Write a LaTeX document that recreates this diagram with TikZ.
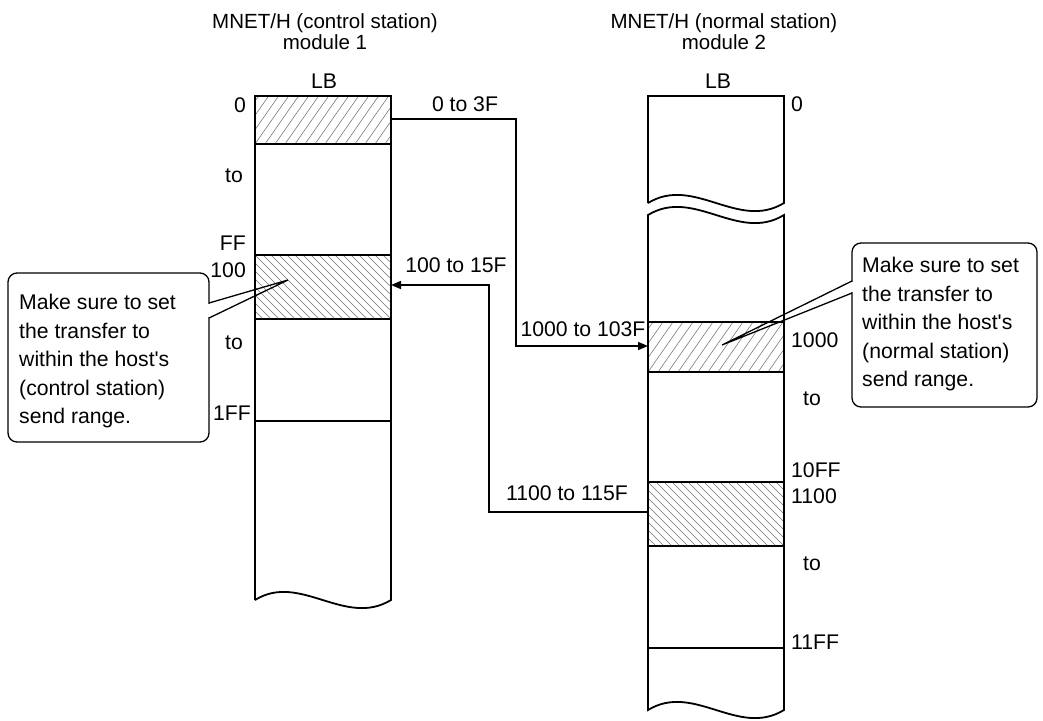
\documentclass[tikz,border=0pt]{standalone}
\usepackage{fontspec}
\setmainfont{Liberation Sans}
\usetikzlibrary{arrows.meta}
\newcommand{\hatchNE}[4]{\begin{scope}\clip (#1,#2) rectangle (#3,#4);
  \foreach \xx in {-80,-70,...,140} \draw[hatchl] ({#1+\xx},#4) -- ++(70,-100);
  \end{scope}}
\newcommand{\hatchNW}[4]{\begin{scope}\clip (#1,#2) rectangle (#3,#4);
  \foreach \xx in {-104,-96,...,140} \draw[hatchl] ({#1+\xx},#2) -- ++(100,100);
  \end{scope}}
\begin{document}
\begin{tikzpicture}[x=1pt,y=-1pt,
  txt/.style={inner sep=0pt, text height=15.2pt, text depth=0pt, font=\fontsize{21.2}{25}\selectfont},
  ttl/.style={inner sep=0pt, text height=14.7pt, text depth=0pt, font=\fontsize{20.5}{24}\selectfont},
  col/.style={line width=1.8pt, line join=miter},
  sep/.style={line width=1.8pt},
  hatchl/.style={line width=0.55pt, black!55},
  conn/.style={line width=1.5pt, -{Triangle[length=10pt,width=8pt]}},
  callout/.style={line width=1.3pt},
  ctext/.style={inner sep=0pt, align=left, anchor=north west, font=\fontsize{21.2}{28.5}\selectfont}]
\useasboundingbox (0,0) rectangle (1043,720);

% titles
\node[ttl] (t1a) at (325,21) {MNET/H (control station)};
\node[ttl] (t1b) at (325,42) {module 1};
\node[txt] (lb1) at (324,81) {LB};
\node[ttl] (t2a) at (724,21) {MNET/H (normal station)};
\node[ttl] (t2b) at (724,42) {module 2};
\node[txt] (lb2) at (718,81) {LB};

% hatches
\hatchNE{255}{96}{391}{144}
\hatchNW{255}{255}{391}{319}
\hatchNE{648}{322}{784}{372}
\hatchNW{648}{482}{784}{546}

% left column
\draw[col] (255,600) -- (255,96) -- (391,96) -- (391,600)
  .. controls (345,628) and (300,572) .. (255,600);
\foreach \yy in {144,255,319,421} \draw[sep] (255,\yy) -- (391,\yy);

% right column
\draw[col] (648,203) -- (648,96) -- (784,96) -- (784,203)
  .. controls (738,231) and (694,175) .. (648,203);
\draw[col] (648,215) .. controls (694,187) and (738,243) .. (784,215)
  -- (784,710) .. controls (738,738) and (694,682) .. (648,710) -- cycle;
\foreach \yy in {322,372,482,546,648} \draw[sep] (648,\yy) -- (784,\yy);

% left address labels
\node[txt, anchor=east] (l0) at (246,105) {0};
\node[txt, anchor=east] (lto1) at (243,175) {to};
\node[txt, anchor=east] (lff) at (246,243) {FF};
\node[txt, anchor=east] (l100) at (246,270) {100};
\node[txt, anchor=east] (lto2) at (243,342) {to};
\node[txt, anchor=east] (l1ff) at (251,413) {1FF};

% right address labels
\node[txt, anchor=west] (r0) at (791,104) {0};
\node[txt, anchor=west] (r1000) at (791,340) {1000};
\node[txt, anchor=west] (rto1) at (803,398) {to};
\node[txt, anchor=west] (r10ff) at (791,470) {10FF};
\node[txt, anchor=west] (r1100) at (791,496) {1100};
\node[txt, anchor=west] (rto2) at (803,563) {to};
\node[txt, anchor=west] (r11ff) at (791,642) {11FF};

% connectors
\coordinate (a1s) at (391,119);
\coordinate (a1e) at (648,346);
\coordinate (a2s) at (648,512);
\coordinate (a2e) at (391,285);
\draw[conn] (a1s) -- (516,119) |- (a1e);
\draw[conn] (a2s) -- (489,512) |- (a2e);
\node[txt] (c1) at (465,104) {0 to 3F};
\node[txt] (c2) at (456,265) {100 to 15F};
\node[txt] (c3) at (583,329) {1000 to 103F};
\node[txt] (c4) at (567,493) {1100 to 115F};

% left callout
\draw[callout, rounded corners=9pt] (8,273) rectangle (209,442);
\fill[white] (207.5,303.8) rectangle (210.5,317.2);
\draw[callout, line join=miter] (209,303) -- (288,280) -- (209,318);
\node[ctext] (n1) at (19,294) {Make sure to set\\the transfer to\\within the host\textquotesingle s\\(control station)\\send range.};

% right callout
\draw[callout, rounded corners=9pt] (852,243) rectangle (1037,407);
\fill[white] (850.5,281.8) rectangle (853.5,292.2);
\draw[callout, line join=miter] (852,281) -- (722,345) -- (852,293);
\node[ctext] (n2) at (862,257) {Make sure to set\\the transfer to\\within the host\textquotesingle s\\(normal station)\\send range.};
\end{tikzpicture}
\end{document}
